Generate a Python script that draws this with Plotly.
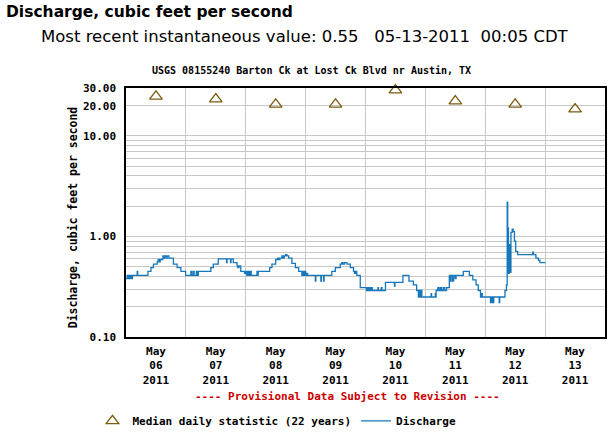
import numpy as np
import pandas as pd
import plotly.graph_objects as go

# instantaneous discharge: hours after 2011-05-06 00:00 CDT, value in cfs (step changes)
q_hours = [
    0.0, 0.5, 0.8, 1.3, 1.6, 2.1, 2.4, 2.6, 4.5, 4.7, 8.8, 10.0, 11.0, 12.5, 12.9, 13.3,
    13.7, 14.8, 15.3, 15.6, 16.2, 16.5, 17.2, 19.0, 20.5, 22.0, 23.9,
    26.0, 26.4, 27.0, 27.3, 28.2, 28.5, 29.0, 34.0, 35.0, 37.0, 40.3, 40.5, 41.9, 42.1,
    43.0, 44.5, 44.8, 45.3, 46.0, 47.5,
    48.0, 48.4, 48.8, 49.3, 49.8, 50.2, 52.5, 52.6, 53.0, 57.6, 58.5, 60.0, 60.8, 61.2,
    61.7, 62.5, 63.0, 63.4, 64.0, 64.5, 65.2, 66.5, 67.9, 69.2, 70.5, 70.9, 71.4, 71.8,
    72.0, 72.5, 72.8, 75.9, 76.1, 78.1, 78.3, 79.2, 79.4, 82.5, 83.9, 85.9, 86.5, 87.0,
    87.6, 88.6, 89.9, 91.2, 91.6, 92.0, 92.5, 93.9,
    96.0, 96.4, 96.8, 97.3, 97.7, 98.0, 98.5, 98.7, 101.0, 101.2, 102.3, 102.6, 104.0,
    107.6, 107.8, 111.0, 113.4, 115.2, 116.5, 117.2, 117.5, 117.9, 118.3, 118.6,
    122.3, 122.5, 124.0, 124.2, 124.3, 125.0, 125.4, 126.0, 126.5, 127.2, 127.8, 128.5,
    129.6, 130.0, 130.3, 130.9, 131.3, 131.9, 132.3, 135.2, 137.6, 139.0, 140.3, 141.2,
    142.1, 142.5, 142.8,
    146.1, 146.4, 146.6, 147.0, 147.2, 147.4, 149.6, 149.8, 151.9, 152.5, 152.8, 153.0,
    153.3, 153.6, 153.9, 154.3, 154.8, 155.2, 155.7, 156.2, 157.0, 163.0, 163.3, 164.3,
    165.3, 165.9, 168.08,
]
q_cfs = [
    0.38, 0.41, 0.38, 0.41, 0.38, 0.41, 0.38, 0.41, 0.45, 0.41, 0.45, 0.49, 0.53, 0.56, 0.59, 0.56,
    0.59, 0.64, 0.61, 0.64, 0.61, 0.64, 0.61, 0.53, 0.49, 0.45, 0.41,
    0.45, 0.41, 0.45, 0.41, 0.45, 0.41, 0.45, 0.49, 0.53, 0.60, 0.55, 0.60, 0.55, 0.60,
    0.55, 0.51, 0.49, 0.51, 0.45, 0.43,
    0.45, 0.41, 0.45, 0.41, 0.45, 0.41, 0.45, 0.41, 0.45, 0.49, 0.53, 0.59, 0.61, 0.59,
    0.61, 0.64, 0.61, 0.64, 0.66, 0.64, 0.61, 0.54, 0.49, 0.45, 0.41, 0.45, 0.41, 0.45,
    0.41, 0.43, 0.41, 0.36, 0.41, 0.36, 0.41, 0.36, 0.41, 0.45, 0.49, 0.53, 0.55, 0.53,
    0.55, 0.53, 0.49, 0.45, 0.43, 0.45, 0.41, 0.31,
    0.31, 0.29, 0.31, 0.29, 0.31, 0.29, 0.31, 0.29, 0.31, 0.29, 0.31, 0.29, 0.35,
    0.32, 0.35, 0.41, 0.36, 0.33, 0.29, 0.25, 0.29, 0.25, 0.29, 0.25,
    0.27, 0.25, 0.27, 0.25, 0.29, 0.31, 0.29, 0.31, 0.29, 0.31, 0.29, 0.31,
    0.41, 0.36, 0.41, 0.36, 0.41, 0.38, 0.41, 0.45, 0.41, 0.37, 0.33, 0.29,
    0.25, 0.27, 0.25,
    0.22, 0.25, 0.22, 0.25, 0.22, 0.25, 0.22, 0.25, 0.29, 0.33, 2.2, 1.22,
    0.43, 0.83, 0.44, 1.1, 1.18, 1.12, 0.9, 0.71, 0.66, 0.70, 0.66, 0.61,
    0.58, 0.55, 0.55,
]

# median daily statistic (22 years)
med_days = ["2011-05-06", "2011-05-07", "2011-05-08", "2011-05-09",
            "2011-05-10", "2011-05-11", "2011-05-12", "2011-05-13"]
med_cfs = [24.8, 23.3, 20.6, 20.6, 28.6, 22.2, 20.6, 18.5]

y_grid = [0.1, 0.2, 0.3, 0.4, 0.5, 0.6, 0.7, 0.8, 0.9,
          1, 2, 3, 4, 5, 6, 7, 8, 9, 10, 20, 30]
y_labels = {0.1: "0.10", 1: "1.00", 10: "10.00", 20: "20.00", 30: "30.00"}

base = pd.Timestamp("2011-05-06 00:00")
q_time = base + pd.to_timedelta(q_hours, unit="h")
noons = pd.to_datetime(med_days) + pd.Timedelta(hours=12)
x_text = [d.strftime("%b<br>%d<br>%Y") for d in pd.to_datetime(med_days)]

mono = "DejaVu Sans Mono"
blue = "#1777bb"
tri = "#7a5c10"

fig = go.Figure()
fig.add_trace(go.Scatter(
    x=noons, y=med_cfs, mode="markers", name="Median daily statistic (22 years)",
    marker=dict(symbol="triangle-up-open", size=11, color=tri, line=dict(width=1.3, color=tri)),
    cliponaxis=False,
))
fig.add_trace(go.Scatter(
    x=q_time, y=q_cfs, mode="lines", name="Discharge",
    line=dict(color=blue, width=1.3, shape="hv"),
))

fig.update_xaxes(
    range=[base, base + pd.Timedelta(days=8)],
    tickvals=noons, ticktext=x_text, showgrid=False,
    tickfont=dict(family=mono, size=11, color="black", weight="bold"),
    ticklabelstandoff=3,
    minor=dict(tickvals=pd.date_range("2011-05-07", periods=7, freq="D"),
               showgrid=True, gridcolor="#c8c8c8", gridwidth=1),
    showline=True, mirror=True, linecolor="black", linewidth=1.5,
    zeroline=False,
)
fig.update_yaxes(
    type="log", range=[-1, np.log10(30)],
    tickvals=y_grid, ticktext=[y_labels.get(v, "") for v in y_grid],
    showgrid=True, gridcolor="#c8c8c8", gridwidth=1,
    tickfont=dict(family=mono, size=11, color="black", weight="bold"),
    ticklabelstandoff=6,
    showline=True, mirror=True, linecolor="black", linewidth=1.5,
)

fig.add_annotation(text="Discharge, cubic feet per second", xref="paper", yref="paper",
                   x=-0.254, y=1.305, xanchor="left", yanchor="middle", showarrow=False,
                   font=dict(family="DejaVu Sans", size=15.5, color="black", weight="bold"))
fig.add_annotation(text="Most recent instantaneous value: 0.55\u00a0\u00a0\u00a005-13-2011\u00a0\u00a000:05 CDT",
                   xref="paper", yref="paper", x=0.374, y=1.205, xanchor="center",
                   yanchor="middle", showarrow=False,
                   font=dict(family="DejaVu Sans", size=16.5, color="black"))
fig.add_annotation(text="USGS 08155240 Barton Ck at Lost Ck Blvd nr Austin, TX",
                   xref="paper", yref="paper", x=0.387, y=1.072, xanchor="center",
                   yanchor="middle", showarrow=False,
                   font=dict(family=mono, size=10, color="black", weight="bold"))
fig.add_annotation(text="Discharge, cubic feet per second", textangle=-90,
                   xref="paper", yref="paper", x=-0.109, y=0.48, xanchor="center",
                   yanchor="middle", showarrow=False,
                   font=dict(family=mono, size=11.5, color="black", weight="bold"))
fig.add_annotation(text="---- Provisional Data Subject to Revision ----",
                   xref="paper", yref="paper", x=0.463, y=-0.237, xanchor="center",
                   yanchor="middle", showarrow=False,
                   font=dict(family=mono, size=11, color="#cc0000", weight="bold"))

fig.update_layout(
    width=612, height=433,
    margin=dict(l=126, r=7, t=88, b=96, autoexpand=False),
    paper_bgcolor="white", plot_bgcolor="white",
    showlegend=True,
    legend=dict(orientation="h", x=-0.07, y=-0.337, xanchor="left", yanchor="middle",
                font=dict(family=mono, size=11, color="black", weight="bold"),
                itemwidth=30, tracegroupgap=0),
)

# the default page keeps an 8px body margin; drop it so the figure sits at the corner
fig.write_html("out.html", config={"displayModeBar": False},
               post_script="document.body.style.margin = '0';")
